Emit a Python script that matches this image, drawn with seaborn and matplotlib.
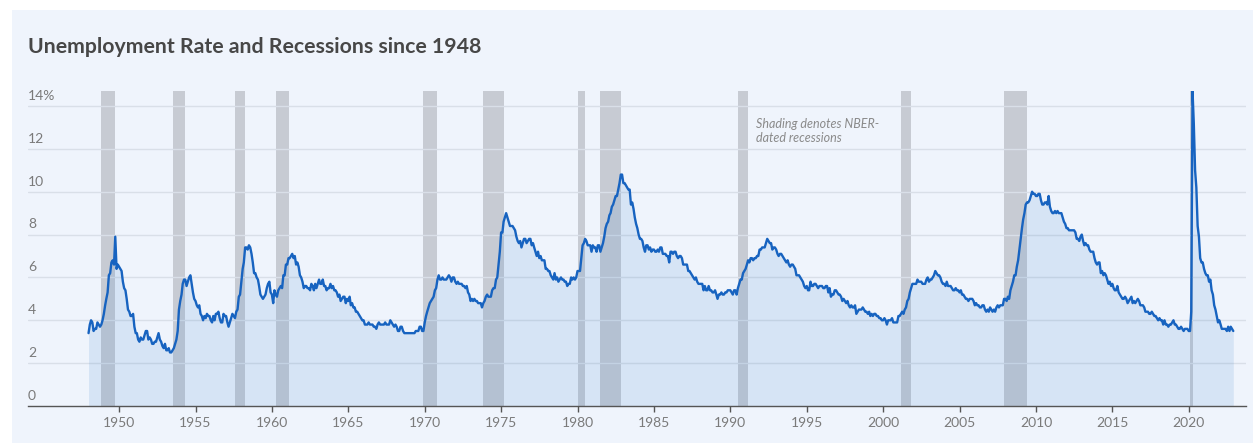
import pandas as pd
import matplotlib.pyplot as plt
import matplotlib.patches as mpatches
import seaborn as sns

# monthly unemployment rate (%), Jan 1948 - Dec 2022, one row per year
unrate_by_year = {
    1948: [3.4, 3.8, 4.0, 3.9, 3.5, 3.6, 3.6, 3.9, 3.8, 3.7, 3.8, 4.0],
    1949: [4.3, 4.7, 5.0, 5.3, 6.1, 6.2, 6.7, 6.8, 6.6, 7.9, 6.4, 6.6],
    1950: [6.5, 6.4, 6.3, 5.8, 5.5, 5.4, 5.0, 4.5, 4.4, 4.2, 4.2, 4.3],
    1951: [3.7, 3.4, 3.4, 3.1, 3.0, 3.2, 3.1, 3.1, 3.3, 3.5, 3.5, 3.1],
    1952: [3.2, 3.1, 2.9, 2.9, 3.0, 3.0, 3.2, 3.4, 3.1, 3.0, 2.8, 2.7],
    1953: [2.9, 2.6, 2.6, 2.7, 2.5, 2.5, 2.6, 2.7, 2.9, 3.1, 3.5, 4.5],
    1954: [4.9, 5.2, 5.7, 5.9, 5.9, 5.6, 5.8, 6.0, 6.1, 5.7, 5.3, 5.0],
    1955: [4.9, 4.7, 4.6, 4.7, 4.3, 4.2, 4.0, 4.2, 4.1, 4.3, 4.2, 4.2],
    1956: [4.0, 3.9, 4.2, 4.0, 4.3, 4.3, 4.4, 4.1, 3.9, 3.9, 4.3, 4.2],
    1957: [4.2, 3.9, 3.7, 3.9, 4.1, 4.3, 4.2, 4.1, 4.4, 4.5, 5.1, 5.2],
    1958: [5.8, 6.4, 6.7, 7.4, 7.4, 7.3, 7.5, 7.4, 7.1, 6.7, 6.2, 6.2],
    1959: [6.0, 5.9, 5.6, 5.2, 5.1, 5.0, 5.1, 5.2, 5.5, 5.7, 5.8, 5.3],
    1960: [5.2, 4.8, 5.4, 5.2, 5.1, 5.4, 5.5, 5.6, 5.5, 6.1, 6.1, 6.6],
    1961: [6.6, 6.9, 6.9, 7.0, 7.1, 6.9, 7.0, 6.6, 6.7, 6.5, 6.1, 6.0],
    1962: [5.8, 5.5, 5.6, 5.6, 5.5, 5.5, 5.4, 5.7, 5.6, 5.4, 5.7, 5.5],
    1963: [5.7, 5.9, 5.7, 5.7, 5.9, 5.6, 5.6, 5.4, 5.5, 5.5, 5.7, 5.5],
    1964: [5.6, 5.4, 5.4, 5.3, 5.1, 5.2, 4.9, 5.0, 5.1, 5.1, 4.8, 5.0],
    1965: [4.9, 5.1, 4.7, 4.8, 4.6, 4.6, 4.4, 4.4, 4.3, 4.2, 4.1, 4.0],
    1966: [4.0, 3.8, 3.8, 3.8, 3.9, 3.8, 3.8, 3.8, 3.7, 3.7, 3.6, 3.8],
    1967: [3.9, 3.8, 3.8, 3.8, 3.8, 3.9, 3.8, 3.8, 3.8, 4.0, 3.9, 3.8],
    1968: [3.7, 3.8, 3.7, 3.5, 3.5, 3.7, 3.7, 3.5, 3.4, 3.4, 3.4, 3.4],
    1969: [3.4, 3.4, 3.4, 3.4, 3.4, 3.5, 3.5, 3.5, 3.7, 3.7, 3.5, 3.5],
    1970: [3.9, 4.2, 4.4, 4.6, 4.8, 4.9, 5.0, 5.1, 5.4, 5.5, 5.9, 6.1],
    1971: [5.9, 5.9, 6.0, 5.9, 5.9, 5.9, 6.0, 6.1, 6.0, 5.8, 6.0, 6.0],
    1972: [5.8, 5.7, 5.8, 5.7, 5.7, 5.7, 5.6, 5.6, 5.5, 5.6, 5.3, 5.2],
    1973: [4.9, 5.0, 4.9, 5.0, 4.9, 4.9, 4.8, 4.8, 4.8, 4.6, 4.8, 4.9],
    1974: [5.1, 5.2, 5.1, 5.1, 5.1, 5.4, 5.5, 5.5, 5.9, 6.0, 6.6, 7.2],
    1975: [8.1, 8.1, 8.6, 8.8, 9.0, 8.8, 8.6, 8.4, 8.4, 8.4, 8.3, 8.2],
    1976: [7.9, 7.7, 7.6, 7.7, 7.4, 7.6, 7.8, 7.8, 7.6, 7.7, 7.8, 7.8],
    1977: [7.5, 7.6, 7.4, 7.2, 7.0, 7.2, 6.9, 7.0, 6.8, 6.8, 6.8, 6.4],
    1978: [6.4, 6.3, 6.3, 6.1, 6.0, 5.9, 6.2, 5.9, 6.0, 5.8, 5.9, 6.0],
    1979: [5.9, 5.9, 5.8, 5.8, 5.6, 5.7, 5.7, 6.0, 5.9, 6.0, 5.9, 6.0],
    1980: [6.3, 6.3, 6.3, 6.9, 7.5, 7.6, 7.8, 7.7, 7.5, 7.5, 7.5, 7.2],
    1981: [7.5, 7.4, 7.4, 7.2, 7.5, 7.5, 7.2, 7.4, 7.6, 7.9, 8.3, 8.5],
    1982: [8.6, 8.9, 9.0, 9.3, 9.4, 9.6, 9.8, 9.8, 10.1, 10.4, 10.8, 10.8],
    1983: [10.4, 10.4, 10.3, 10.2, 10.1, 10.1, 9.4, 9.5, 9.2, 8.8, 8.5, 8.3],
    1984: [8.0, 7.8, 7.8, 7.7, 7.4, 7.2, 7.5, 7.5, 7.3, 7.4, 7.2, 7.3],
    1985: [7.3, 7.2, 7.2, 7.3, 7.2, 7.4, 7.4, 7.1, 7.1, 7.1, 7.0, 7.0],
    1986: [6.7, 7.2, 7.2, 7.1, 7.2, 7.2, 7.0, 6.9, 7.0, 7.0, 6.9, 6.6],
    1987: [6.6, 6.6, 6.6, 6.3, 6.3, 6.2, 6.1, 6.0, 5.9, 6.0, 5.8, 5.7],
    1988: [5.7, 5.7, 5.7, 5.4, 5.6, 5.4, 5.4, 5.6, 5.4, 5.4, 5.3, 5.3],
    1989: [5.4, 5.2, 5.0, 5.2, 5.2, 5.3, 5.2, 5.2, 5.3, 5.3, 5.4, 5.4],
    1990: [5.4, 5.3, 5.2, 5.4, 5.4, 5.2, 5.5, 5.7, 5.9, 5.9, 6.2, 6.3],
    1991: [6.4, 6.6, 6.8, 6.7, 6.9, 6.9, 6.8, 6.9, 6.9, 7.0, 7.0, 7.3],
    1992: [7.3, 7.4, 7.4, 7.4, 7.6, 7.8, 7.7, 7.6, 7.6, 7.3, 7.4, 7.4],
    1993: [7.3, 7.1, 7.0, 7.1, 7.1, 7.0, 6.9, 6.8, 6.7, 6.8, 6.6, 6.5],
    1994: [6.6, 6.6, 6.5, 6.4, 6.1, 6.1, 6.1, 6.0, 5.9, 5.8, 5.6, 5.5],
    1995: [5.6, 5.4, 5.4, 5.8, 5.6, 5.6, 5.7, 5.7, 5.6, 5.5, 5.6, 5.6],
    1996: [5.6, 5.5, 5.5, 5.6, 5.6, 5.3, 5.5, 5.1, 5.2, 5.2, 5.4, 5.4],
    1997: [5.3, 5.2, 5.2, 5.1, 4.9, 5.0, 4.9, 4.8, 4.9, 4.7, 4.6, 4.7],
    1998: [4.6, 4.6, 4.7, 4.3, 4.4, 4.5, 4.5, 4.5, 4.6, 4.5, 4.4, 4.4],
    1999: [4.3, 4.4, 4.2, 4.3, 4.2, 4.3, 4.3, 4.2, 4.2, 4.1, 4.1, 4.0],
    2000: [4.0, 4.1, 4.0, 3.8, 4.0, 4.0, 4.0, 4.1, 3.9, 3.9, 3.9, 3.9],
    2001: [4.2, 4.2, 4.3, 4.4, 4.3, 4.5, 4.6, 4.9, 5.0, 5.3, 5.5, 5.7],
    2002: [5.7, 5.7, 5.7, 5.9, 5.8, 5.8, 5.8, 5.7, 5.7, 5.7, 5.9, 6.0],
    2003: [5.8, 5.9, 5.9, 6.0, 6.1, 6.3, 6.2, 6.1, 6.1, 6.0, 5.8, 5.7],
    2004: [5.7, 5.6, 5.8, 5.6, 5.6, 5.6, 5.5, 5.4, 5.4, 5.5, 5.4, 5.4],
    2005: [5.3, 5.4, 5.2, 5.2, 5.1, 5.0, 5.0, 4.9, 5.0, 5.0, 5.0, 4.9],
    2006: [4.7, 4.8, 4.7, 4.7, 4.6, 4.6, 4.7, 4.7, 4.5, 4.4, 4.5, 4.4],
    2007: [4.6, 4.5, 4.4, 4.5, 4.4, 4.6, 4.7, 4.6, 4.7, 4.7, 4.7, 5.0],
    2008: [5.0, 4.9, 5.1, 5.0, 5.4, 5.6, 5.8, 6.1, 6.1, 6.5, 6.8, 7.3],
    2009: [7.8, 8.3, 8.7, 9.0, 9.4, 9.5, 9.5, 9.6, 9.8, 10.0, 9.9, 9.9],
    2010: [9.8, 9.8, 9.9, 9.9, 9.6, 9.4, 9.4, 9.5, 9.5, 9.4, 9.8, 9.3],
    2011: [9.1, 9.0, 9.0, 9.1, 9.0, 9.1, 9.0, 9.0, 9.0, 8.8, 8.6, 8.5],
    2012: [8.3, 8.3, 8.2, 8.2, 8.2, 8.2, 8.2, 8.1, 7.8, 7.8, 7.7, 7.9],
    2013: [8.0, 7.7, 7.5, 7.6, 7.5, 7.5, 7.3, 7.2, 7.2, 7.2, 6.9, 6.7],
    2014: [6.6, 6.7, 6.7, 6.2, 6.3, 6.1, 6.2, 6.1, 5.9, 5.7, 5.8, 5.6],
    2015: [5.7, 5.5, 5.4, 5.4, 5.6, 5.3, 5.2, 5.1, 5.0, 5.0, 5.1, 5.0],
    2016: [4.8, 4.9, 5.0, 5.1, 4.8, 4.9, 4.8, 4.9, 5.0, 4.9, 4.7, 4.7],
    2017: [4.7, 4.6, 4.4, 4.4, 4.4, 4.3, 4.3, 4.4, 4.3, 4.2, 4.2, 4.1],
    2018: [4.0, 4.1, 4.0, 4.0, 3.8, 4.0, 3.8, 3.8, 3.7, 3.8, 3.8, 3.9],
    2019: [4.0, 3.8, 3.8, 3.7, 3.6, 3.6, 3.7, 3.6, 3.5, 3.6, 3.6, 3.6],
    2020: [3.5, 3.5, 4.4, 14.7, 13.2, 11.0, 10.2, 8.4, 7.9, 6.9, 6.7, 6.7],
    2021: [6.4, 6.2, 6.1, 6.1, 5.8, 5.9, 5.4, 5.2, 4.7, 4.5, 4.2, 3.9],
    2022: [4.0, 3.8, 3.6, 3.6, 3.6, 3.6, 3.5, 3.7, 3.5, 3.7, 3.6, 3.5],
}

# NBER recession start / end months
rec_starts = ['1948-11', '1953-07', '1957-08', '1960-04', '1969-12', '1973-11',
              '1980-01', '1981-07', '1990-07', '2001-03', '2007-12', '2020-02']
rec_ends = ['1949-10', '1954-05', '1958-04', '1961-02', '1970-11', '1975-03',
            '1980-07', '1982-11', '1991-03', '2001-11', '2009-06', '2020-04']

y_ticks = [0, 2, 4, 6, 8, 10, 12, 14]
x_tick_years = list(range(1950, 2021, 5))

rates = [v for yr in sorted(unrate_by_year) for v in unrate_by_year[yr]]
df = pd.DataFrame({
    'date': pd.date_range('1948-01-01', periods=len(rates), freq='MS'),
    'rate': rates,
})

BG = '#eff4fc'
LINE = '#1763c0'

sns.set_style('white')
plt.rcParams['font.family'] = ['Lato', 'DejaVu Sans']

fig = plt.figure(figsize=(12.53, 4.43), dpi=100)
fig.patch.set_facecolor('white')
fig.patches.append(mpatches.Rectangle((12 / 1253, 0), 1, 1 - 10 / 443,
                                      transform=fig.transFigure,
                                      facecolor=BG, edgecolor='none', zorder=-10))

ax = fig.add_axes([28 / 1253, 1 - 406 / 443, (1246 - 28) / 1253, (406 - 91) / 443])
ax.set_facecolor('none')

for s, e in zip(rec_starts, rec_ends):
    ax.axvspan(pd.Timestamp(s), pd.Timestamp(e), color='#c7cbd3', lw=0, zorder=1)

for t in y_ticks[1:]:
    ax.axhline(t, color='#d9dfe8', lw=1, zorder=1.5)

ax.fill_between(df['date'], df['rate'], 0, color='#4889cd', alpha=0.15, lw=0, zorder=2)
sns.lineplot(data=df, x='date', y='rate', ax=ax, color=LINE, lw=1.7, zorder=3)

ax.set_xlim(pd.Timestamp('1944-01-15'), pd.Timestamp('2023-10-01'))
ax.set_ylim(0, 14.7)

ax.set_xticks([pd.Timestamp(f'{y}-01-01') for y in x_tick_years])
ax.set_xticklabels([str(y) for y in x_tick_years], color='#7a7a7a', fontsize=10)
ax.tick_params(axis='x', length=4, width=1, color='#555555', pad=4, bottom=True)
ax.set_yticks([])
ax.set_xlabel('')
ax.set_ylabel('')

for side in ['top', 'right', 'left']:
    ax.spines[side].set_visible(False)
ax.spines['bottom'].set_color('#555555')
ax.spines['bottom'].set_linewidth(1)
ax.spines['bottom'].set_zorder(4)

# y labels sit just above their gridlines
for t in y_ticks:
    lab = '14%' if t == 14 else str(t)
    ax.annotate(lab, xy=(0, t), xycoords=('axes fraction', 'data'),
                xytext=(0, 3), textcoords='offset points',
                ha='left', va='bottom', color='#7a7a7a', fontsize=10)

ax.text(pd.Timestamp('1991-09-01'), 13.45, 'Shading denotes NBER-\ndated recessions',
        fontsize=9, style='italic', color='#8a8a8a', ha='left', va='top',
        linespacing=1.2)

fig.text(28 / 1253, 1 - 47 / 443, 'Unemployment Rate and Recessions since 1948',
         fontsize=15.3, fontweight='bold', color='#474747', ha='left', va='center')

fig.savefig('out.png', dpi=100)
